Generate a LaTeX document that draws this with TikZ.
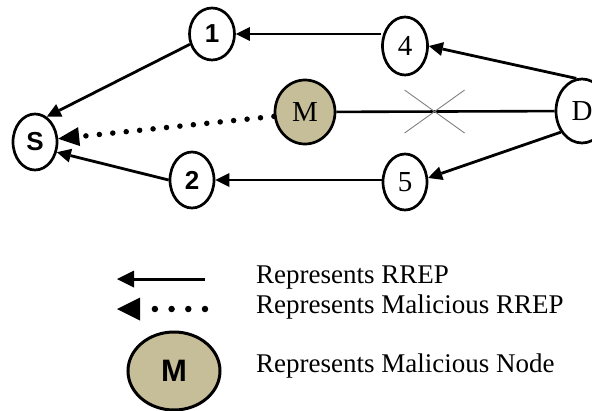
\documentclass[tikz,border=0pt]{standalone}
\usepackage{fontspec}
\setmainfont{Liberation Serif}
\newfontfamily\labelsans{Liberation Sans}
\usetikzlibrary{arrows.meta,shapes.geometric}

\definecolor{maltan}{RGB}{198,190,153}

\begin{document}
\begin{tikzpicture}[x=1pt, y=-1pt,
  host/.style={draw, ellipse, line width=2.7pt, inner sep=0pt, minimum width=44pt, minimum height=56pt},
  rogue/.style={host, fill=maltan},
  sanslabel/.style={font=\labelsans\bfseries\fontsize{26}{26}\selectfont},
  seriflabel/.style={font=\fontsize{29}{29}\selectfont},
  rrep/.style={->, line width=2.8pt},
  fakerrep/.style={-{Triangle[length=21pt,width=19pt,line width=0pt]}, line width=5.5pt, line cap=round, dash pattern=on 0pt off 13.5pt},
  keytext/.style={anchor=base west, inner sep=0pt, font=\fontsize{27}{27}\selectfont},
  >={Triangle[length=14pt,width=14pt,line width=0pt]}]

% the picture is clipped to the page
\clip (0,0) rectangle (592,410);

% Nodes of the route
\node[host, sanslabel] (S) at (35,142) {S};
\node[host, sanslabel, minimum width=45pt, minimum height=52pt] (n1) at (212,34) {1};
\node[host, sanslabel] (n2) at (192,180) {2};
\node[host, seriflabel, minimum width=45pt, minimum height=58pt] (n4) at (405,46) {4};
\node[host, seriflabel] (n5) at (405,182) {5};
\node[rogue, seriflabel, minimum width=60pt, minimum height=64pt] (M) at (305,112) {M};
\node[host, seriflabel, minimum width=52pt, minimum height=64pt] (D) at (582,111) {D};

% RREP paths
\draw[rrep] (D.100) -- (n4.east);
\draw[rrep] (n1 -| n4.west) -- (n1);
\draw[rrep] (n1.205) -- (S.65);
\draw[rrep] (D.225) -- (n5.10);
\draw[rrep] (n2 -| n5.west) -- (n2);
\draw[rrep] (n2.west) -- (S.-25);

% broken link and the forged reply
\draw[line width=2.6pt] (M) -- coordinate[pos=0.45] (cut) (D);
\draw[gray, line width=0.9pt] (cut) +(-30,-21.5) -- +(30,21.5) (cut) +(-30,21.5) -- +(30,-21.5);
\draw[fakerrep] (M.188) -- (S.8);

% legend
\coordinate (keyA) at (205,279);
\coordinate (keyAend) at (117,279);
\coordinate (keyB) at (205,309);
\coordinate (keyBend) at (117,309);
\draw[rrep, line width=3pt, >={Triangle[length=17pt,width=17pt,line width=0pt]}] (keyA) -- (keyAend);
\draw[fakerrep, line width=6.5pt, dash pattern=on 0pt off 16.7pt,
  -{Triangle[length=23pt,width=23pt,line width=0pt]}] (keyB) -- (keyBend);
\node[rogue, minimum width=92pt, minimum height=78pt, line width=3pt,
  font=\labelsans\bfseries\fontsize{31}{31}\selectfont] (keyM) at (174,371) {M};

\node[keytext] (rreptext) at (256,283) {Represents RREP};
\node[keytext] (fakerreptext) at (256,313) {Represents Malicious RREP};
\node[keytext] (rognodetext) at (256,372) {Represents Malicious Node};

\end{tikzpicture}
\end{document}
